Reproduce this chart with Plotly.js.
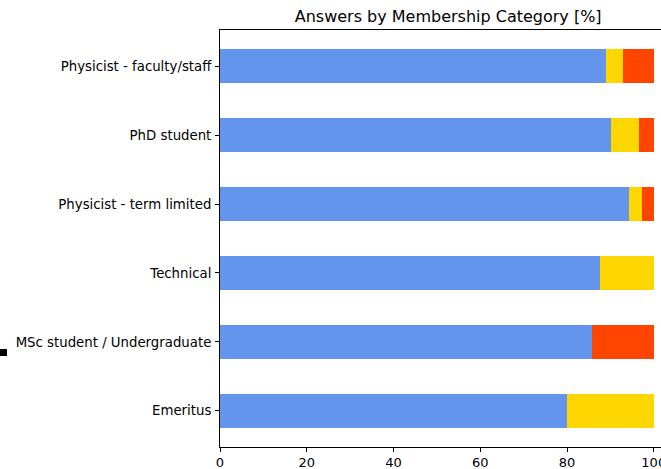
<!DOCTYPE html>
<html>
<head>
<meta charset="utf-8">
<script src="https://cdn.plot.ly/plotly-3.0.1.min.js"></script>
<style>html,body{margin:0;padding:0;background:#fff;}#chart{width:661px;height:469px;}</style>
</head>
<body>
<div id="chart"></div>
<script>
const categories = ["Physicist - faculty/staff", "PhD student", "Physicist - term limited", "Technical", "MSc student / Undergraduate", "Emeritus"];
const seriesA = [88.9, 90.1, 94.4, 87.5, 85.7, 80.0];
const seriesB = [4.1, 6.6, 2.8, 12.5, 0.0, 20.0];
const seriesC = [7.0, 3.3, 2.8, 0.0, 14.3, 0.0];
const xTicks = [0, 20, 40, 60, 80, 100];

const colors = ["#6495ED", "#FFD700", "#FF4500"];
const traces = [seriesA, seriesB, seriesC].map((vals, i) => ({
  type: "bar",
  orientation: "h",
  y: categories,
  x: vals,
  marker: {color: colors[i], line: {width: 0}},
  showlegend: false,
  hoverinfo: "x+y"
}));

const layout = {
  width: 661, height: 469,
  margin: {l: 220, r: 0, t: 30, b: 22},
  barmode: "stack",
  bargap: 0.5,
  paper_bgcolor: "#fff",
  plot_bgcolor: "#fff",
  font: {family: "DejaVu Sans", size: 13, color: "#000"},
  title: {text: "Answers by Membership Category [%]", font: {family: "DejaVu Sans", size: 16, color: "#000"},
          xref: "container", x: 0.678, xanchor: "center", yref: "container", y: 0.966, yanchor: "middle"},
  xaxis: {range: [0, 101.67], tickvals: xTicks, ticktext: xTicks.map(String), ticks: "outside", ticklen: 4, tickwidth: 1, tickcolor: "#000",
          showline: true, linecolor: "#000", linewidth: 1, mirror: true, showgrid: false, zeroline: false,
          ticklabeloverflow: "allow", ticklabelstandoff: -1, tickfont: {family: "DejaVu Sans", size: 13}},
  yaxis: {categoryorder: "array", categoryarray: categories, range: [5.525, -0.525], ticks: "outside", ticklen: 4, tickwidth: 1, tickcolor: "#000",
          showline: true, linecolor: "#000", linewidth: 1, showgrid: false, zeroline: false, ticklabelstandoff: 1,
          tickfont: {family: "DejaVu Sans", size: 13.3}},
  shapes: [{type: "rect", xref: "paper", yref: "paper", x0: -220/441, x1: -213/441, y0: (447-356)/417, y1: (447-349)/417, fillcolor: "#000", line: {width: 0}}]
};

Plotly.newPlot("chart", traces, layout, {displayModeBar: false, staticPlot: true});
</script>
</body>
</html>
